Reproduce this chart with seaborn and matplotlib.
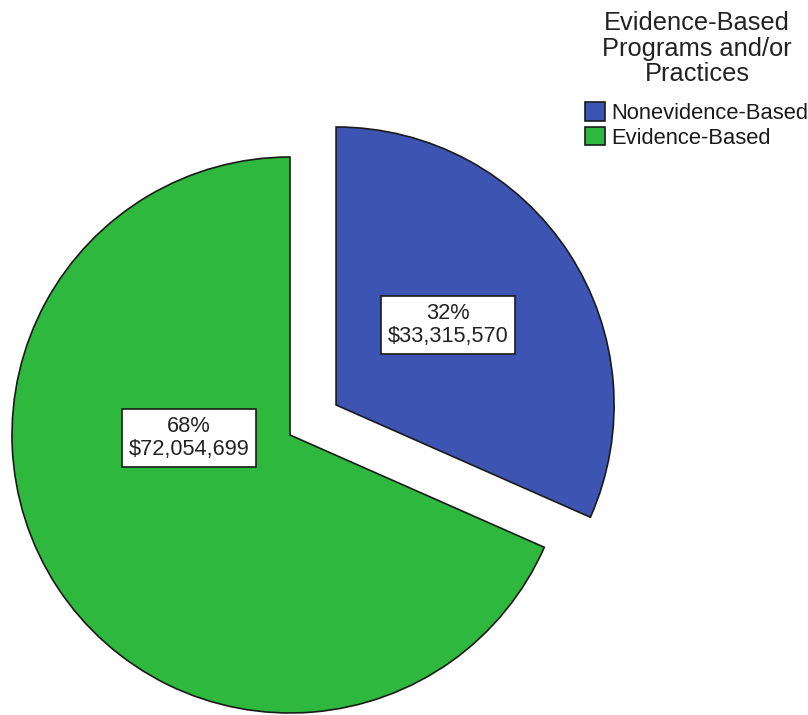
import matplotlib
matplotlib.use("Agg")
import matplotlib.pyplot as plt
import seaborn as sns

sns.set_style("white")
plt.rcParams["font.family"] = ["Liberation Sans", "DejaVu Sans"]

# Funding by program type
categories = ["Nonevidence-Based", "Evidence-Based"]
amounts = [33315570, 72054699]
colors = ["#3e54b2", "#2fb83e"]
legend_title = "Evidence-Based\nPrograms and/or\nPractices"

W, H = 808, 715
fig = plt.figure(figsize=(W / 100, H / 100), dpi=100)
ax = fig.add_axes([0, 0, 1, 1])

total = sum(amounts)
wedges, _ = ax.pie(
    amounts,
    colors=colors,
    startangle=90,
    counterclock=False,
    center=(290, H - 435),
    radius=278,
    explode=[55, 0],
    wedgeprops=dict(edgecolor="#1a1a1a", linewidth=1.2),
    frame=True,
)
ax.set_xlim(0, W)
ax.set_ylim(0, H)
ax.set_aspect("equal")
ax.axis("off")

# Value labels: percent and dollar amount in boxed text
label_pos = [(448, H - 325), (189, H - 438)]
for (x, y), amt in zip(label_pos, amounts):
    pct = round(100 * amt / total)
    ax.text(x, y, f"{pct}%\n${amt:,}", ha="center", va="center",
            fontsize=15.7, linespacing=1.15, color="#222222",
            bbox=dict(boxstyle="square,pad=0.3", facecolor="white",
                      edgecolor="#1a1a1a", linewidth=1.2))

leg = fig.legend(wedges, categories, title=legend_title,
                 loc="upper center", bbox_to_anchor=(697 / W, 1 + 4 / H),
                 frameon=False, fontsize=15.8, title_fontsize=18.3,
                 handlelength=0.9, handleheight=0.9, handletextpad=0.3,
                 labelspacing=0.15, borderpad=0.2)
leg.get_title().set_multialignment("center")
leg.get_title().set_linespacing(1.06)
leg.get_title().set_color("#222222")
for t in leg.get_texts():
    t.set_color("#1a1a1a")
leg._legend_box.align = "center"
leg._legend_box.sep = 12

fig.savefig("out.png", dpi=100)
